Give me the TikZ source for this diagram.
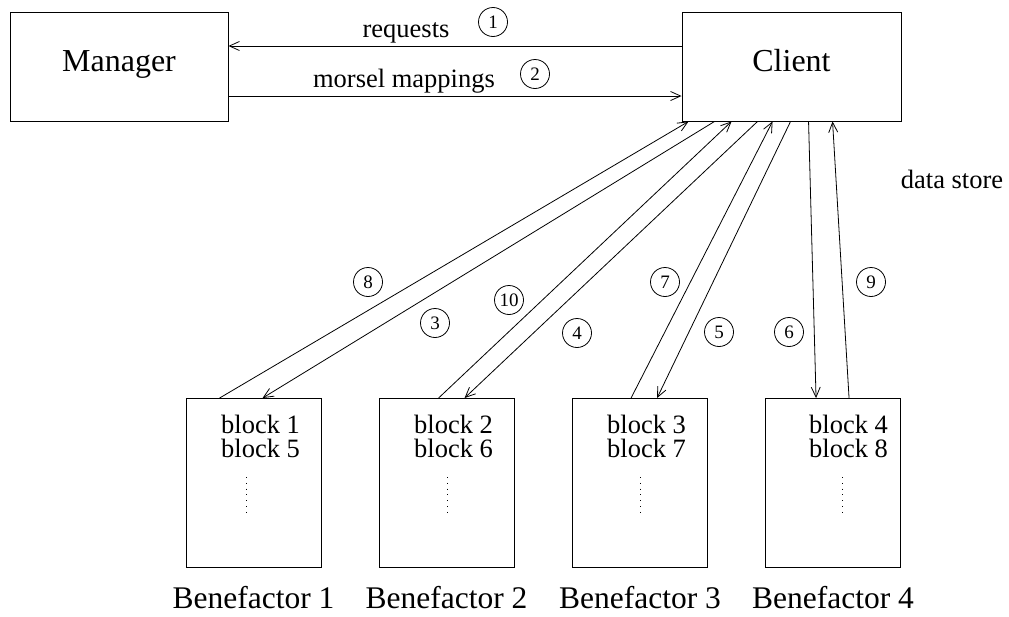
\documentclass[tikz,border=0pt]{standalone}
\usepackage{fontspec}
\setmainfont{Liberation Serif}
\usetikzlibrary{arrows.meta}
\tikzset{
  every picture/.style={x=1pt,y=-1pt},
  box/.style={draw, line width=0.9pt, inner sep=0pt},
  bigbox/.style={box, minimum width=218pt, minimum height=109pt,
    text height=21pt, text depth=11pt, font=\fontsize{32}{38}\selectfont},
  benbox/.style={box, minimum width=135pt, minimum height=169pt},
  blk/.style={anchor=base west, inner sep=0pt, font=\fontsize{26.5}{30}\selectfont},
  lbl/.style={anchor=base, inner sep=0pt, font=\fontsize{26.5}{30}\selectfont},
  ben/.style={anchor=base, inner sep=0pt, font=\fontsize{31.5}{36}\selectfont},
  num/.style={draw, circle, line width=0.8pt, minimum size=29pt, inner sep=0pt, font=\fontsize{19}{22}\selectfont},
  msg/.style={line width=0.8pt, -{Straight Barb[length=10pt,width=9pt,line width=0.8pt]}},
  vdots/.style={line width=1pt, dash pattern=on 1pt off 4.8pt}
}
\begin{document}
\begin{tikzpicture}
  \useasboundingbox (0,0) rectangle (1009,616);

  % top row
  \node[bigbox] (manager) at (119,66.5) {Manager};
  \node[bigbox, minimum width=219pt] (client) at (791.5,66.5) {Client};

  % request / mapping exchange
  \draw[msg] ([yshift=20.5pt]client.west) -- ([yshift=20.5pt]manager.east);
  \draw[msg] ([yshift=-29.5pt]manager.east) -- ([yshift=-29.5pt]client.west);
  \node[lbl] (req) at (406,37) {requests};
  \node[lbl] (mm) at (404,87) {morsel mappings};
  \node[num] (n1) at (493,22) {1};
  \node[num] (n2) at (535,74) {2};

  \node[lbl] (ds) at (952,188) {data store};

  % benefactors: index / box centre / text left / dots x / block numbers
  \foreach \i/\x/\tx/\dx/\a/\b in {1/253.5/221/246/1/5, 2/446.5/414/447/2/6, 3/640/607/640/3/7, 4/833/809/842/4/8}{
    \node[benbox] (bf\i) at (\x,483) {};
    \node[blk] (bta\i) at (\tx,433) {block \a};
    \node[blk] (btb\i) at (\tx,457.5) {block \b};
    \coordinate (dt\i) at (\dx,477);
    \coordinate (db\i) at (\dx,513);
    \draw[vdots] (dt\i) -- (db\i);
    \node[ben] (bl\i) at (\x,608) {Benefactor \i};
  }

  % block traffic between client and benefactors
  \draw[msg] ([xshift=33pt]client.south west) -- ([xshift=77pt]bf1.north west);
  \draw[msg] ([xshift=34pt]bf1.north west) -- ([xshift=7pt]client.south west);
  \draw[msg] ([xshift=76pt]client.south west) -- ([xshift=86pt]bf2.north west);
  \draw[msg] ([xshift=60pt]bf2.north west) -- ([xshift=50pt]client.south west);
  \draw[msg] ([xshift=109pt]client.south west) -- ([xshift=85pt]bf3.north west);
  \draw[msg] ([xshift=59pt]bf3.north west) -- ([xshift=91pt]client.south west);
  \draw[msg] ([xshift=127pt]client.south west) -- ([xshift=51pt]bf4.north west);
  \draw[msg] ([xshift=84pt]bf4.north west) -- ([xshift=151pt]client.south west);

  % step numbers
  \node[num] (n8) at (368,282) {8};
  \node[num] (n3) at (435,323) {3};
  \node[num] (n10) at (509,300) {10};
  \node[num] (n4) at (577,333) {4};
  \node[num] (n7) at (665,282) {7};
  \node[num] (n5) at (719,332) {5};
  \node[num] (n6) at (789,332) {6};
  \node[num] (n9) at (871,282) {9};
\end{tikzpicture}
\end{document}
